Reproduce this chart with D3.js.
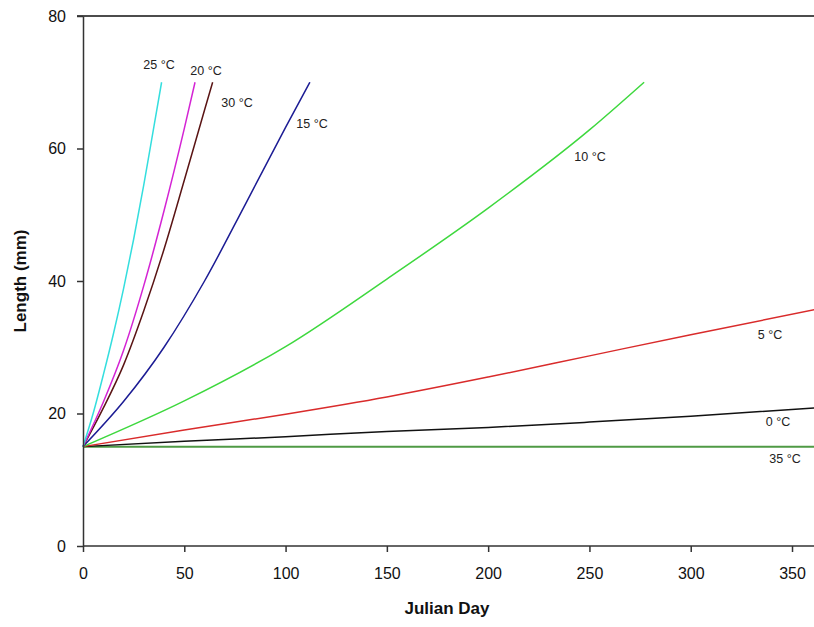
<!DOCTYPE html>
<html><head><meta charset="utf-8">
<script src="https://cdn.jsdelivr.net/npm/d3@7"></script>
<style>body{margin:0;background:#fff;} text{font-family:"Liberation Sans",Arial,sans-serif;}</style>
</head><body><svg id="c" width="814" height="627"></svg>
<script>
const xTicks = [0, 50, 100, 150, 200, 250, 300, 350];
const yTicks = [0, 20, 40, 60, 80];
const seriesNames = ["35 °C", "0 °C", "5 °C", "10 °C", "15 °C", "30 °C", "20 °C", "25 °C"];
const seriesColors = ["#4f9a45", "#111111", "#d92b2b", "#3ed83e", "#1c1c94", "#5a1414", "#d424d4", "#34dede"];
const days35 = [0, 365];
const len35 = [15, 15];
const days0 = [0, 50, 100, 150, 200, 250, 300, 365];
const len0 = [15, 15.8, 16.5, 17.3, 17.9, 18.7, 19.6, 20.9];
const days5 = [0, 50, 100, 150, 200, 250, 300, 365];
const len5 = [15, 17.5, 19.9, 22.5, 25.5, 28.7, 31.9, 35.9];
const days10 = [0, 50, 100, 150, 200, 250, 277];
const len10 = [15, 21.9, 30.1, 40.3, 51.0, 62.8, 70];
const days15 = [0, 20, 40, 60, 80, 100, 112];
const len15 = [15, 21.8, 30, 40, 51.5, 63.2, 70];
const days30 = [0, 10, 20, 30, 40, 50, 60, 64];
const len30 = [15, 20.8, 27.3, 35.5, 44.8, 55.2, 65.8, 70];
const days20 = [0, 10, 20, 30, 40, 50, 55.3];
const len20 = [15, 21.7, 29.5, 39.3, 50.6, 63, 70];
const days25 = [0, 5, 10, 15, 20, 25, 30, 35, 38.8];
const len25 = [15, 20, 25.8, 32, 38.8, 46.3, 54.5, 63.3, 70];

const seriesDays = [days35, days0, days5, days10, days15, days30, days20, days25];
const seriesLen = [len35, len0, len5, len10, len15, len30, len20, len25];
const labelPos = [[785, 463], [778, 426], [770, 339], [590, 161], [312, 128], [237, 107], [206, 75], [159, 69]];

const svg = d3.select("#c");
const x = d3.scaleLinear().domain([0, 365]).range([83, 822.4]);
const y = d3.scaleLinear().domain([0, 80]).range([546, 16]);

const line = d3.line().x(d => x(d[0])).y(d => y(d[1])).curve(d3.curveMonotoneX);

seriesNames.forEach((n, i) => {
  const pts = seriesDays[i].map((d, j) => [d, seriesLen[i][j]]);
  svg.append("path").attr("d", line(pts)).attr("fill", "none")
    .attr("stroke", seriesColors[i]).attr("stroke-width", i === 0 ? 2 : 1.5);
});

const axColor = "#333";
svg.append("line").attr("x1", x(0) - 6).attr("x2", 814).attr("y1", y(80)).attr("y2", y(80))
  .attr("stroke", "#111").attr("stroke-width", 1.5);

const xAxis = svg.append("g").attr("transform", `translate(0,${y(0)})`)
  .call(d3.axisBottom(x).tickValues(xTicks).tickSize(6).tickPadding(16).tickSizeOuter(0));
const yAxis = svg.append("g").attr("transform", `translate(${x(0)},0)`)
  .call(d3.axisLeft(y).tickValues(yTicks).tickSize(6).tickPadding(11).tickSizeOuter(0));
[xAxis, yAxis].forEach(g => {
  g.select(".domain").attr("stroke", axColor).attr("stroke-width", 1.5);
  g.selectAll(".tick line").attr("stroke", axColor).attr("stroke-width", 1.5);
  g.selectAll(".tick text").attr("fill", "#111").style("font-size", "16px")
    .style("font-family", '"Liberation Sans", Arial, sans-serif');
});
xAxis.select(".domain").attr("d", `M${x(0)},0H814`);

seriesNames.forEach((n, i) => {
  svg.append("text").attr("x", labelPos[i][0]).attr("y", labelPos[i][1])
    .attr("text-anchor", "middle").style("font-size", "12.5px").attr("fill", "#222").text(n);
});

svg.append("text").attr("x", 447).attr("y", 614).attr("text-anchor", "middle")
  .style("font-size", "17px").style("font-weight", "bold").attr("fill", "#111").text("Julian Day");
svg.append("text").attr("transform", "translate(26,281) rotate(-90)").attr("text-anchor", "middle")
  .style("font-size", "17px").style("font-weight", "bold").attr("fill", "#111").text("Length (mm)");
</script></body></html>
